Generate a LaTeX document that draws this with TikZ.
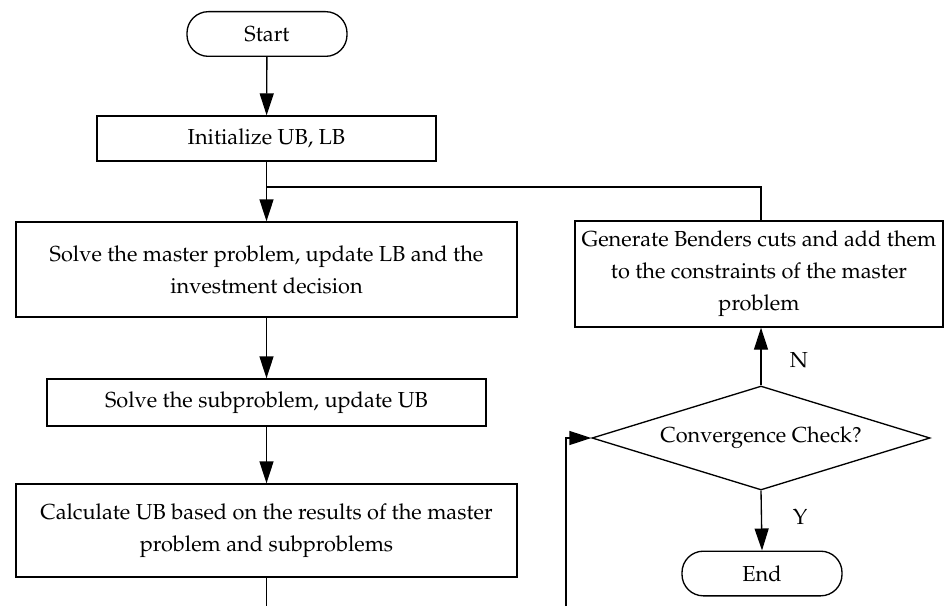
\documentclass[tikz,border=0pt]{standalone}
\usepackage[T1]{fontenc}
\usepackage{mathpazo}
\usetikzlibrary{arrows.meta,shapes.geometric}
\begin{document}
\begin{tikzpicture}[x=0.75pt,y=-0.75pt,
  every node/.style={font=\fontsize{16.3}{24}\selectfont, align=center},
  flowbox/.style={draw, line width=1pt, inner sep=0pt},
  terminal/.style={draw, line width=1pt, rounded corners=16pt, inner sep=0pt,
    minimum width=120pt, minimum height=33.5pt},
  decision/.style={draw, diamond, aspect=3.25, line width=1pt, inner sep=0pt,
    minimum width=253.5pt, minimum height=78pt},
  flow/.style={line width=1pt, -{Triangle[length=16.5pt,width=10.5pt]}},
  link/.style={line width=1pt},
  tag/.style={font=\fontsize{16.3}{18}\selectfont}
]
\useasboundingbox (0,0) rectangle (944,606);

% main column
\node[terminal] (start) at (267,34) {Start};
\node[flowbox, minimum width=254.25pt, minimum height=33.75pt] (init) at (266.5,138.5) {Initialize UB, LB};
\node[flowbox, minimum width=375.75pt, minimum height=71.25pt] (master) at (266.5,269.5)
  {Solve the master problem, update LB and the\\investment decision};
\node[flowbox, minimum width=329.25pt, minimum height=35.25pt] (sub) at (266.5,402.5)
  {Solve the subproblem, update UB};
\node[flowbox, minimum width=375.75pt, minimum height=69.75pt] (calc) at (266.5,530.5)
  {Calculate UB based on the results of the master\\problem and subproblems};

% right column
\node[flowbox, minimum width=276pt, minimum height=79.5pt] (cuts) at (759,274)
  {Generate Benders cuts and add them\\to the constraints of the master\\problem};
\node[decision] (check) at (761,438) {Convergence Check?};
\node[terminal] (end) at (762,573.5) {End};
\node[tag] (labN) at (799,360) {N};
\node[tag] (labY) at (800,517) {Y};

% connectors
\coordinate (split) at (266.5,187);
\coordinate (bend) at (761,187);
\coordinate (out) at (266.5,606);
\coordinate (back) at (566,606);

\draw[flow] (start) -- (init);
\draw[flow] (init.south) -- (master.north);
\draw[link] (split) -- (bend) -- (bend |- cuts.north);
\draw[flow] (master) -- (sub);
\draw[flow] (sub) -- (calc);
\draw[link] (calc.south) -- (out);
\draw[flow] (check.north) -- (check.north |- cuts.south);
\draw[flow] (check.south) -- (end.north);
\draw[flow] (back) |- (check.west);
\end{tikzpicture}
\end{document}
